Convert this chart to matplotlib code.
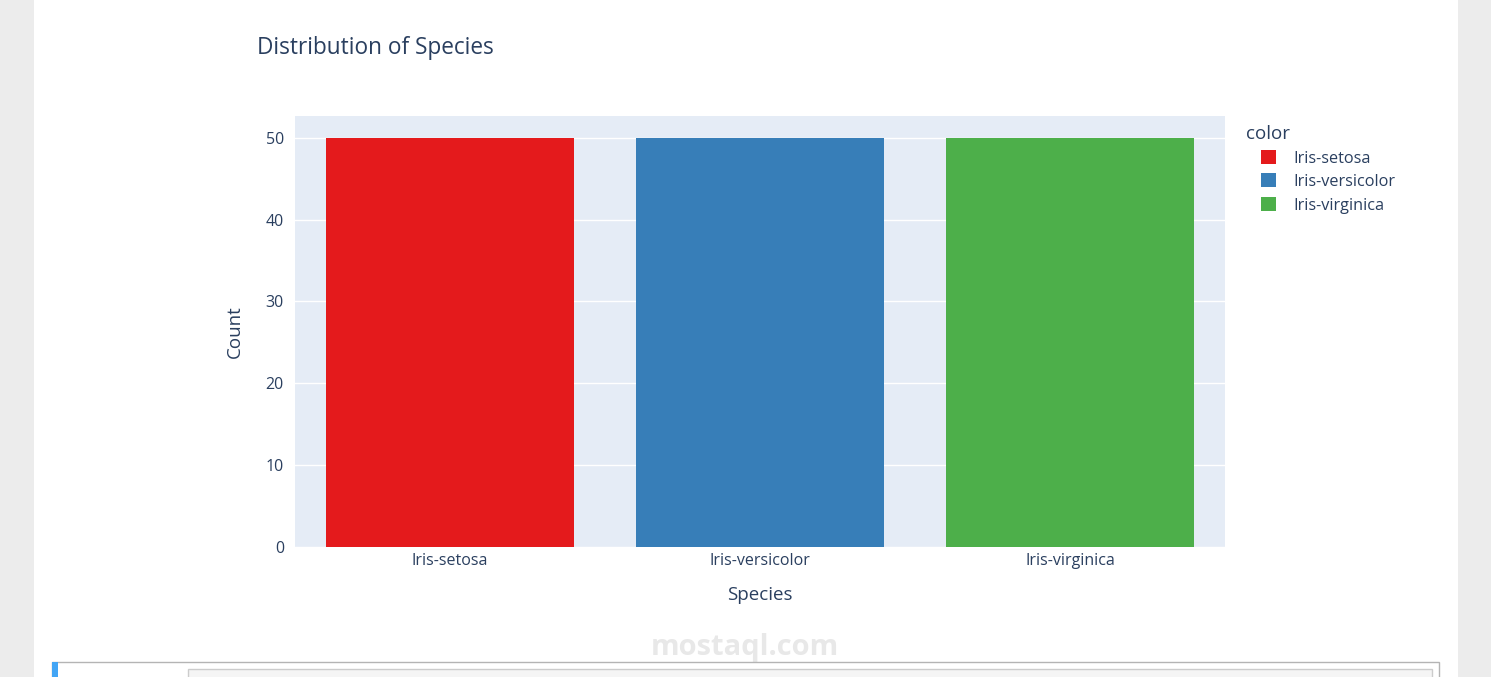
import matplotlib.pyplot as plt
from matplotlib.patches import Rectangle

species = ["Iris-setosa", "Iris-versicolor", "Iris-virginica"]
counts = [50, 50, 50]
colors = ["#e41a1c", "#377eb8", "#4daf4a"]
y_ticks = [0, 10, 20, 30, 40, 50]

W, H = 1491, 677
TXT = "#2a3f5f"
plt.rcParams["font.family"] = ["Open Sans", "DejaVu Sans"]


def px(x, y):
    # pixel coords (top-left origin) -> figure fraction
    return x / W, 1 - y / H


fig = plt.figure(figsize=(W / 100, H / 100), dpi=100)
fig.patch.set_facecolor("#ececec")

# page background: white content column and the box below the chart
fig.patches.append(Rectangle(px(34, 677), 1424 / W, 1, transform=fig.transFigure,
                             facecolor="white", edgecolor="none", zorder=0))
fig.patches.append(Rectangle(px(52, 700), 1387 / W, 38 / H, transform=fig.transFigure,
                             facecolor="white", edgecolor="#b4b4b4", lw=1, zorder=1))
fig.patches.append(Rectangle(px(52, 700), 6 / W, 38 / H, transform=fig.transFigure,
                             facecolor="#42a5f5", edgecolor="none", zorder=2))
fig.patches.append(Rectangle(px(188, 700), 1244 / W, 31 / H, transform=fig.transFigure,
                             facecolor="#f5f5f5", edgecolor="#cccccc", lw=1, zorder=2))

# plot area
l, b = px(295, 547)
ax = fig.add_axes([l, b, 930 / W, 431 / H])
ax.set_zorder(5)
ax.set_facecolor("#e5ecf6")
x = range(len(species))
ax.bar(x, counts, width=0.8, color=colors, zorder=3)
ax.set_xlim(-0.5, 2.5)
ax.set_ylim(0, 52.65)
ax.set_yticks(y_ticks)
ax.set_xticks(list(x))
ax.set_xticklabels(species)
ax.grid(axis="y", color="white", lw=1, zorder=0)
ax.set_axisbelow(True)
for s in ax.spines.values():
    s.set_visible(False)
ax.tick_params(axis="both", length=0, labelsize=11.5, labelcolor=TXT)
ax.tick_params(axis="y", pad=8)
ax.tick_params(axis="x", pad=4.5)
ax.set_ylabel("Count", fontsize=13.5, color=TXT, labelpad=16)
ax.set_xlabel("Species", fontsize=13.5, color=TXT, labelpad=12)

# title
tx, ty = px(257, 48)
fig.text(tx, ty, "Distribution of Species", fontsize=16.3, color=TXT, va="center", ha="left")

# legend
lx, ly = px(1246, 134)
fig.text(lx, ly, "color", fontsize=13.5, color=TXT, va="center", ha="left")
for i, (name, c) in enumerate(zip(species, colors)):
    yy = 157 + i * 23.5
    sx, sy = px(1261, yy + 7)
    fig.patches.append(Rectangle((sx, sy), 15 / W, 14 / H, transform=fig.transFigure,
                                 facecolor=c, edgecolor="none", zorder=3))
    nx, ny = px(1293, yy + 2)
    fig.text(nx, ny, name, fontsize=11.7, color=TXT, va="center", ha="left")

# watermark
wx, wy = px(745, 647)
fig.text(wx, wy, "mostaql.com", fontsize=21, fontweight="bold", color="#e8e8e8",
         va="center", ha="center", zorder=0)

fig.savefig("out.png", dpi=100, facecolor=fig.get_facecolor())
